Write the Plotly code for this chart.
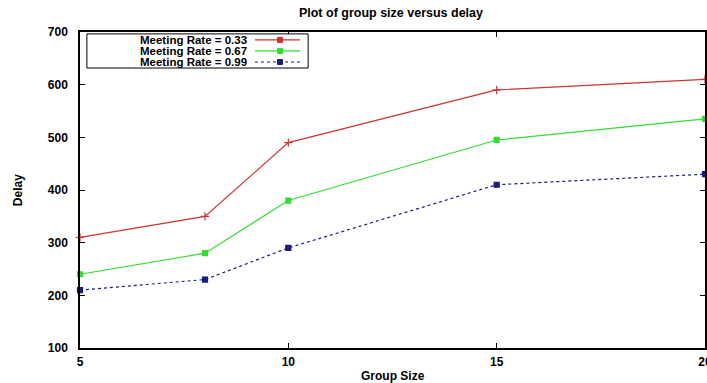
import plotly.graph_objects as go

group_size = [5, 8, 10, 15, 20]
delay_r033 = [310, 350, 490, 590, 610]
delay_r067 = [240, 280, 380, 495, 535]
delay_r099 = [210, 230, 290, 410, 430]
series_names = ["Meeting Rate = 0.33", "Meeting Rate = 0.67", "Meeting Rate = 0.99"]
x_ticks = [5, 10, 15, 20]
y_ticks = [100, 200, 300, 400, 500, 600, 700]

colors = ["#cc3333", "#33dd33", "#1a1a80"]
dashes = ["solid", "solid", "dot"]
symbols = ["cross-thin-open", "square", "square"]
msizes = [6, 5, 5]

fig = go.Figure()
for name, ys, c, d, s, ms in zip(series_names, [delay_r033, delay_r067, delay_r099], colors, dashes, symbols, msizes):
    fig.add_trace(go.Scatter(x=group_size, y=ys, mode="lines+markers", name=name,
                             line=dict(color=c, width=1.2, dash=d),
                             marker=dict(symbol=s, size=ms, color=c, line=dict(color=c, width=1.2)),
                             showlegend=False, cliponaxis=False))

FAM = "Liberation Sans, Arial, sans-serif"
font = dict(family=FAM, size=12, color="black")
lfont = dict(family=FAM, size=11.5, color="black")

shapes = [dict(type="rect", xref="paper", yref="paper", x0=0.011, x1=0.365, y0=0.886, y1=0.994,
               line=dict(color="black", width=1), fillcolor="white")]
annotations = []
row_y = [0.975, 0.940, 0.905]
for name, c, d, ry in zip(series_names, colors, dashes, row_y):
    annotations.append(dict(xref="paper", yref="paper", x=0.27, y=ry, text="<b>" + name + "</b>",
                            showarrow=False, xanchor="right", yanchor="middle", font=lfont))
    shapes.append(dict(type="line", xref="paper", yref="paper", x0=0.28, x1=0.352, y0=ry, y1=ry,
                       line=dict(color=c, width=1.2, dash=d)))
    shapes.append(dict(type="rect", xref="paper", yref="paper", x0=0.316, x1=0.324, y0=ry - 0.008, y1=ry + 0.008,
                       line=dict(color=c, width=1), fillcolor=c))

annotations.append(dict(xref="paper", yref="paper", x=0.5, y=-0.089, text="<b>Group Size</b>",
                        showarrow=False, xanchor="center", yanchor="middle", font=font))
annotations.append(dict(xref="paper", yref="paper", x=-0.099, y=0.5, text="<b>Delay</b>", textangle=-90,
                        showarrow=False, xanchor="center", yanchor="middle", font=font))

fig.update_layout(
    width=707, height=383,
    margin=dict(l=80, r=2, t=32, b=35, autoexpand=False),
    paper_bgcolor="white", plot_bgcolor="white",
    font=font,
    title=dict(text="<b>Plot of group size versus delay</b>", x=0.553, xanchor="center", y=0.968, yanchor="middle",
               font=dict(family=FAM, size=12.5, color="black")),
    shapes=shapes,
    annotations=annotations,
    xaxis=dict(range=[5, 20], tickvals=x_ticks, ticktext=[f"<b>{v}</b>" for v in x_ticks], automargin=False,
               ticklabeloverflow="allow",
               showgrid=False, zeroline=False, showline=True, linecolor="black", linewidth=1.5,
               mirror="ticks", ticks="inside", ticklen=5, tickcolor="black", ticklabelstandoff=2),
    yaxis=dict(range=[100, 700], tickvals=y_ticks, ticktext=[f"<b>{v}</b>" for v in y_ticks], automargin=False,
               ticklabeloverflow="allow",
               showgrid=False, zeroline=False, showline=True, linecolor="black", linewidth=1.5,
               mirror="ticks", ticks="inside", ticklen=5, tickcolor="black", ticklabelstandoff=8),
)

fig.write_html("out.html", config={"displayModeBar": False},
               post_script="document.body.style.margin='0';document.body.style.overflow='hidden';")
